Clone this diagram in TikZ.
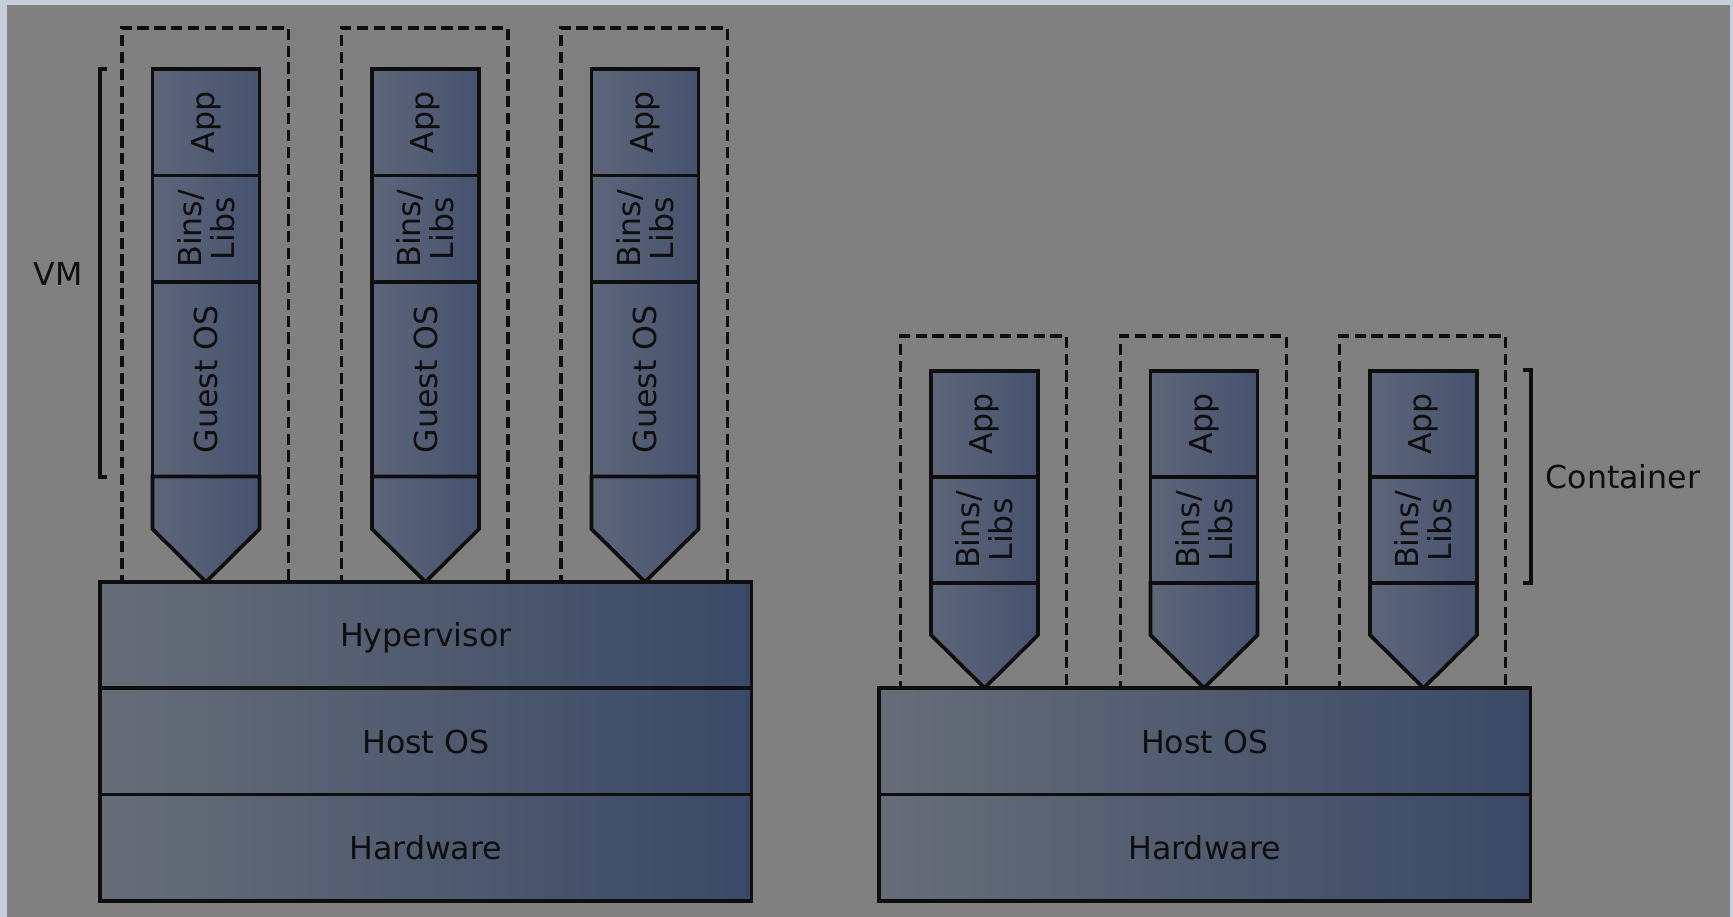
\documentclass[tikz,border=0pt]{standalone}
\usepackage{fontspec}
\setmainfont{DejaVu Sans}
\definecolor{bgborder}{HTML}{C6CED9}
\definecolor{bggray}{HTML}{808080}
\definecolor{wideL}{HTML}{676D78}
\definecolor{wideR}{HTML}{3A4966}
\definecolor{colL}{HTML}{5D6578}
\definecolor{colR}{HTML}{46536F}
\definecolor{ink}{HTML}{0E0E0E}
\begin{document}
\begin{tikzpicture}[x=0.1mm,y=-0.1mm,
  layer/.style={draw=ink, line width=1.05pt, left color=wideL, right color=wideR,
    minimum width=65.15mm, minimum height=10.63mm, inner sep=0pt, outer sep=0pt,
    text height=6.6pt, text depth=0pt,
    text=ink, font=\fontsize{9}{10}\selectfont},
  part/.style={draw=ink, line width=1.05pt, left color=colL, right color=colR,
    minimum width=10.7mm, inner sep=0pt, outer sep=0pt},
  ptext/.style={rotate=90, align=center, text=ink, inner sep=0pt,
    font=\fontsize{9}{9.4}\selectfont},
  tip/.style={draw=ink, line width=1.05pt, left color=colL, right color=colR, line join=miter},
  frame/.style={draw=ink, line width=0.95pt, dash pattern=on 3.2pt off 1.6pt,
    inner sep=0pt, outer sep=0pt},
  brk/.style={draw=ink, line width=1.05pt},
  lbl/.style={text=ink, inner sep=0pt, font=\fontsize{9}{10}\selectfont}
]
% background
\fill[bgborder] (0,0) rectangle (1733,917);
\fill[bggray] (7,5) rectangle (1730,917);
\useasboundingbox (0,0) rectangle (1733,917);

% VM dashed frames
\foreach \i in {0,1,2}{
  \node[frame, minimum width=16.65mm, minimum height=55.4mm] (vmf\i) at (205.3+219.5*\i,305) {};
}
% Container dashed frames
\foreach \i in {0,1,2}{
  \node[frame, minimum width=16.6mm, minimum height=35.2mm] (ctf\i) at (983.7+219.5*\i,512) {};
}

% VM stacks
\foreach \i in {0,1,2}{
  \node[part, minimum height=10.65mm, label={[ptext]center:App}] (vapp\i) at (206+219.5*\i,122.25) {};
  \node[part, minimum height=10.65mm, label={[ptext]center:Bins/\\Libs}] (vbin\i) at (206+219.5*\i,228.75) {};
  \node[part, minimum height=19.45mm, label={[ptext]center:Guest OS}] (vgos\i) at (206+219.5*\i,379.25) {};
  \draw[tip] (vgos\i.south west) -- ++(0,52.5) -- ([yshift=-10.55mm]vgos\i.south) -- ([yshift=-5.25mm]vgos\i.south east) -- (vgos\i.south east) -- cycle;
}

% Container stacks
\foreach \i in {0,1,2}{
  \node[part, minimum height=10.6mm, label={[ptext]center:App}] (capp\i) at (984.5+219.5*\i,424) {};
  \node[part, minimum height=10.6mm, label={[ptext]center:Bins/\\Libs}] (cbin\i) at (984.5+219.5*\i,530) {};
  \draw[tip] (cbin\i.south west) -- ++(0,52) -- ([yshift=-10.5mm]cbin\i.south) -- ([yshift=-5.2mm]cbin\i.south east) -- (cbin\i.south east) -- cycle;
}

% VM layers
\node[layer] (hyp) at (425.75,635.1) {Hypervisor};
\node[layer] (hos) at (425.75,741.4) {Host OS};
\node[layer] (hw)  at (425.75,847.7) {Hardware};
% Container layers
\node[layer] (chos) at (1204.7,741.4) {Host OS};
\node[layer] (chw)  at (1204.7,847.7) {Hardware};

% brackets and labels
\draw[brk] (107,69) -- (100,69) -- (100,477) -- (107,477);
\node[lbl] (vml) at (58,274) {VM};
\draw[brk] (1523,370) -- (1531,370) -- (1531,583) -- (1523,583);
\node[lbl, anchor=west] (ctl) at (1545,477) {Container};
\end{tikzpicture}
\end{document}
